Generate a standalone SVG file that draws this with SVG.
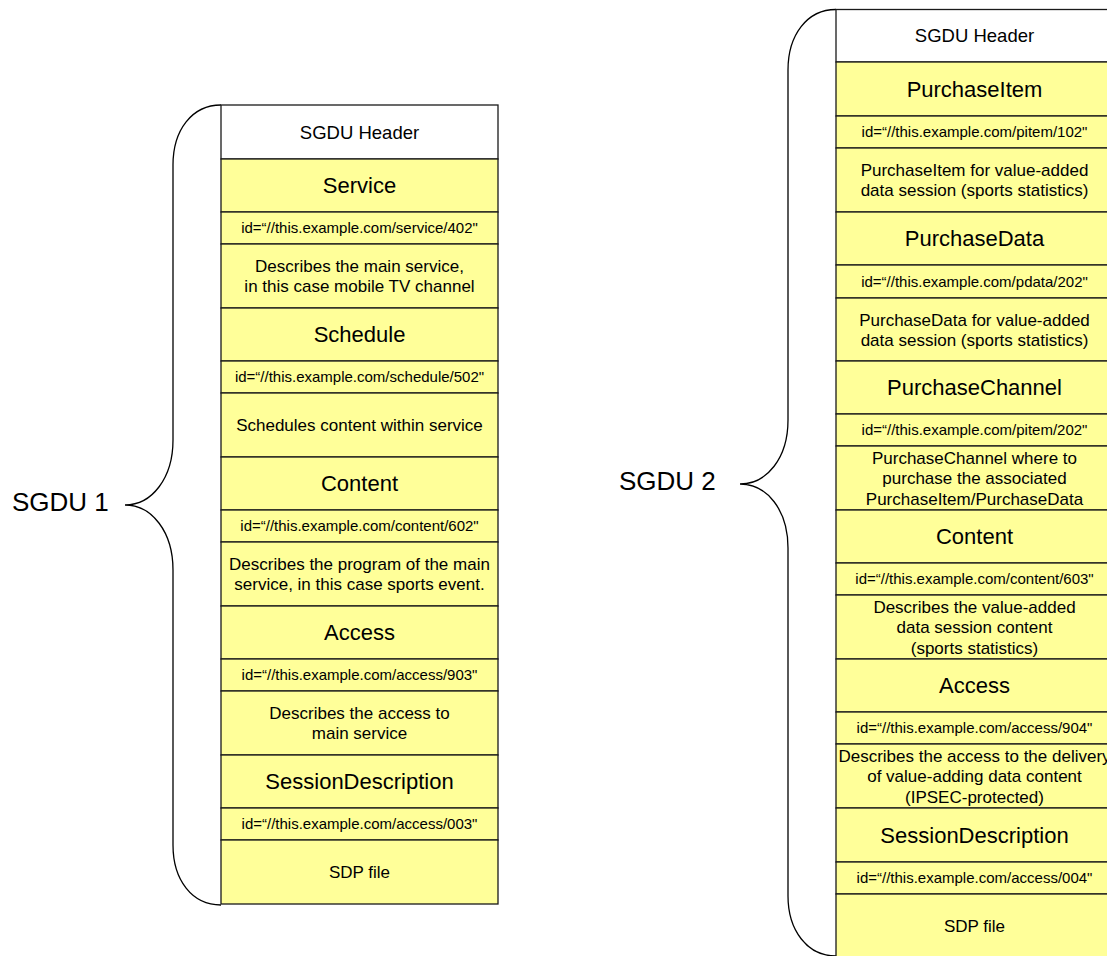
<svg xmlns="http://www.w3.org/2000/svg" width="1107" height="956" viewBox="0 0 1107 956">
<style>
text{font-family:"Liberation Sans",Arial,sans-serif;fill:#000;text-anchor:middle}
.row{fill:#FFFF99;stroke:#1a1a1a;stroke-width:1.3}
.hdr{fill:#fff;stroke:#1a1a1a;stroke-width:1.3}
.h{font-size:18.5px}
.t{font-size:22px}
.i{font-size:15px}
.d{font-size:17px}
.lbl{font-size:26px;text-anchor:start}
.brace{fill:none;stroke:#000;stroke-width:1.3}
</style>
<rect width="1107" height="956" fill="#fff"/>
<g id="connectors">
<path id="brace1" class="brace" d="M221,105 C192,105 173,130 173,165 L173,440 C173,478 152,505 125,505 C152,505 173,532 173,570 L173,845 C173,880 192,905 221,905"/>
<path id="brace2" class="brace" d="M836,9.5 C807,9.5 788,35 788,70 L788,420 C788,458 767,484 740,484 C767,484 788,510 788,548 L788,896 C788,930 807,956 836,956"/>
</g>
<g id="label-sgdu1"><text class="lbl" x="12" y="511">SGDU 1</text></g>
<g id="label-sgdu2"><text class="lbl" x="619" y="490">SGDU 2</text></g>
<g id="sgdu1">
<g id="s1-header"><rect class="hdr" x="221" y="105" width="277" height="54"/><text class="h" x="359.5" y="138.5">SGDU Header</text></g>
<g id="s1-service"><rect class="row" x="221" y="159" width="277" height="53"/><text class="t" x="359.5" y="193">Service</text></g>
<g id="s1-service-id"><rect class="row" x="221" y="212" width="277" height="32"/><text class="i" x="359.5" y="233">id=“//this.example.com/service/402"</text></g>
<g id="s1-service-desc"><rect class="row" x="221" y="244" width="277" height="64"/><text class="d" x="359.5" y="272">Describes the main service,</text><text class="d" x="359.5" y="292">in this case mobile TV channel</text></g>
<g id="s1-schedule"><rect class="row" x="221" y="308" width="277" height="53"/><text class="t" x="359.5" y="342">Schedule</text></g>
<g id="s1-schedule-id"><rect class="row" x="221" y="361" width="277" height="32"/><text class="i" x="359.5" y="382">id=“//this.example.com/schedule/502"</text></g>
<g id="s1-schedule-desc"><rect class="row" x="221" y="393" width="277" height="64"/><text class="d" x="359.5" y="431">Schedules content within service</text></g>
<g id="s1-content"><rect class="row" x="221" y="457" width="277" height="53"/><text class="t" x="359.5" y="491">Content</text></g>
<g id="s1-content-id"><rect class="row" x="221" y="510" width="277" height="32"/><text class="i" x="359.5" y="531">id=“//this.example.com/content/602"</text></g>
<g id="s1-content-desc"><rect class="row" x="221" y="542" width="277" height="64"/><text class="d" x="359.5" y="570">Describes the program of the main</text><text class="d" x="359.5" y="590">service, in this case sports event.</text></g>
<g id="s1-access"><rect class="row" x="221" y="606" width="277" height="53"/><text class="t" x="359.5" y="640">Access</text></g>
<g id="s1-access-id"><rect class="row" x="221" y="659" width="277" height="32"/><text class="i" x="359.5" y="680">id=“//this.example.com/access/903"</text></g>
<g id="s1-access-desc"><rect class="row" x="221" y="691" width="277" height="64"/><text class="d" x="359.5" y="719">Describes the access to</text><text class="d" x="359.5" y="739">main service</text></g>
<g id="s1-sd"><rect class="row" x="221" y="755" width="277" height="53"/><text class="t" x="359.5" y="789">SessionDescription</text></g>
<g id="s1-sd-id"><rect class="row" x="221" y="808" width="277" height="32"/><text class="i" x="359.5" y="829">id=“//this.example.com/access/003"</text></g>
<g id="s1-sdp"><rect class="row" x="221" y="840" width="277" height="64"/><text class="d" x="359.5" y="878">SDP file</text></g>
</g>
<g id="sgdu2">
<g id="s2-header"><rect class="hdr" x="836" y="9.5" width="277" height="52.5"/><text class="h" x="974.5" y="42">SGDU Header</text></g>
<g id="s2-pitem"><rect class="row" x="836" y="62" width="277" height="54"/><text class="t" x="974.5" y="97">PurchaseItem</text></g>
<g id="s2-pitem-id"><rect class="row" x="836" y="116" width="277" height="32"/><text class="i" x="974.5" y="137">id=“//this.example.com/pitem/102"</text></g>
<g id="s2-pitem-desc"><rect class="row" x="836" y="148" width="277" height="64"/><text class="d" x="974.5" y="176">PurchaseItem for value-added</text><text class="d" x="974.5" y="196">data session (sports statistics)</text></g>
<g id="s2-pdata"><rect class="row" x="836" y="212" width="277" height="53"/><text class="t" x="974.5" y="246">PurchaseData</text></g>
<g id="s2-pdata-id"><rect class="row" x="836" y="265" width="277" height="33"/><text class="i" x="974.5" y="286.5">id=“//this.example.com/pdata/202"</text></g>
<g id="s2-pdata-desc"><rect class="row" x="836" y="298" width="277" height="63"/><text class="d" x="974.5" y="325.5">PurchaseData for value-added</text><text class="d" x="974.5" y="345.5">data session (sports statistics)</text></g>
<g id="s2-pchannel"><rect class="row" x="836" y="361" width="277" height="53"/><text class="t" x="974.5" y="395">PurchaseChannel</text></g>
<g id="s2-pchannel-id"><rect class="row" x="836" y="414" width="277" height="32"/><text class="i" x="974.5" y="435">id=“//this.example.com/pitem/202"</text></g>
<g id="s2-pchannel-desc"><rect class="row" x="836" y="446" width="277" height="64"/><text class="d" x="974.5" y="463.5">PurchaseChannel where to</text><text class="d" x="974.5" y="484">purchase the associated</text><text class="d" x="974.5" y="504.5">PurchaseItem/PurchaseData</text></g>
<g id="s2-content"><rect class="row" x="836" y="510" width="277" height="53"/><text class="t" x="974.5" y="544">Content</text></g>
<g id="s2-content-id"><rect class="row" x="836" y="563" width="277" height="32"/><text class="i" x="974.5" y="584">id=“//this.example.com/content/603"</text></g>
<g id="s2-content-desc"><rect class="row" x="836" y="595" width="277" height="64"/><text class="d" x="974.5" y="612.5">Describes the value-added</text><text class="d" x="974.5" y="633">data session content</text><text class="d" x="974.5" y="653.5">(sports statistics)</text></g>
<g id="s2-access"><rect class="row" x="836" y="659" width="277" height="53"/><text class="t" x="974.5" y="693">Access</text></g>
<g id="s2-access-id"><rect class="row" x="836" y="712" width="277" height="32"/><text class="i" x="974.5" y="733">id=“//this.example.com/access/904"</text></g>
<g id="s2-access-desc"><rect class="row" x="836" y="744" width="277" height="64"/><text class="d" x="974.5" y="761.5">Describes the access to the delivery</text><text class="d" x="974.5" y="782">of value-adding data content</text><text class="d" x="974.5" y="802.5">(IPSEC-protected)</text></g>
<g id="s2-sd"><rect class="row" x="836" y="808" width="277" height="54"/><text class="t" x="974.5" y="842.5">SessionDescription</text></g>
<g id="s2-sd-id"><rect class="row" x="836" y="862" width="277" height="32"/><text class="i" x="974.5" y="883">id=“//this.example.com/access/004"</text></g>
<g id="s2-sdp"><rect class="row" x="836" y="894" width="277" height="64"/><text class="d" x="974.5" y="932">SDP file</text></g>
</g>
</svg>
